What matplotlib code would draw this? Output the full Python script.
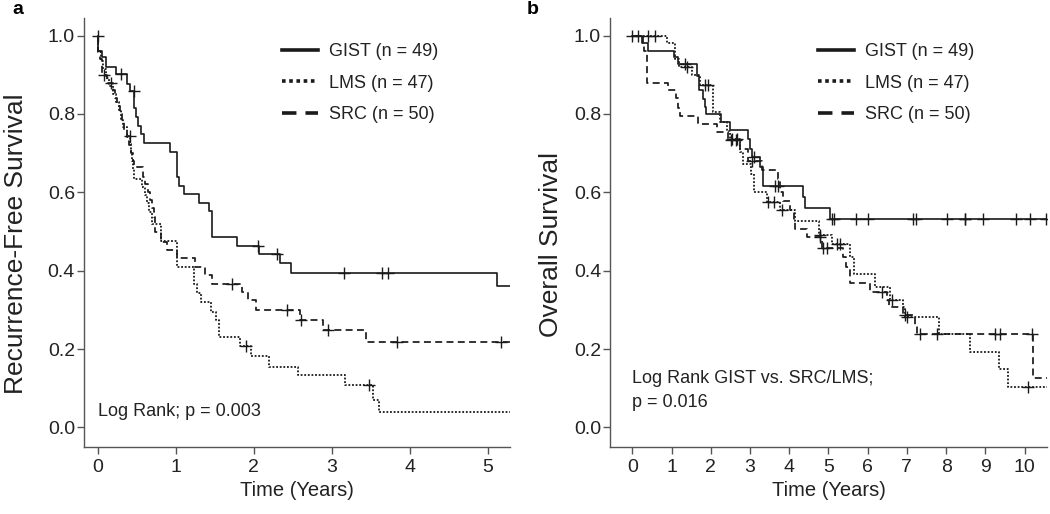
import numpy as np
import matplotlib
matplotlib.use("Agg")
import matplotlib.pyplot as plt
from matplotlib.lines import Line2D

plt.rcParams['font.family'] = ['Liberation Sans', 'DejaVu Sans']

# ---- Panel a: recurrence-free survival (event times, survival after event, censor times)
rfs_gist_t = [0.01, 0.06, 0.11, 0.23, 0.37, 0.42, 0.47, 0.49, 0.52, 0.56, 0.59, 0.93,
              1.01, 1.02, 1.04, 1.10, 1.30, 1.42, 1.46, 1.79, 2.06, 2.33, 2.47, 5.12]
rfs_gist_s = [0.962, 0.945, 0.921, 0.902, 0.877, 0.858, 0.814, 0.792, 0.770, 0.749, 0.725, 0.702,
              0.681, 0.639, 0.615, 0.596, 0.573, 0.552, 0.485, 0.462, 0.443, 0.419, 0.394, 0.362]
rfs_gist_c = [0.0, 0.30, 0.46, 2.05, 2.30, 3.15, 3.64, 3.72]

rfs_lms_t = [0.01, 0.04, 0.07, 0.11, 0.15, 0.19, 0.23, 0.27, 0.30, 0.33, 0.37, 0.42,
             0.43, 0.44, 0.45, 0.46, 0.57, 0.60, 0.63, 0.66, 0.69, 0.81, 1.02, 1.23,
             1.27, 1.32, 1.45, 1.52, 1.55, 1.82, 1.96, 2.20, 2.56, 3.17, 3.52, 3.60]
rfs_lms_s = [0.957, 0.936, 0.915, 0.893, 0.872, 0.851, 0.830, 0.808, 0.787, 0.766, 0.744, 0.723,
             0.702, 0.680, 0.659, 0.635, 0.614, 0.593, 0.572, 0.550, 0.520, 0.475, 0.409, 0.367,
             0.342, 0.320, 0.294, 0.273, 0.230, 0.207, 0.181, 0.154, 0.133, 0.107, 0.071, 0.039]
rfs_lms_c = [0.41, 1.90, 3.47]

rfs_src_t = [0.01, 0.03, 0.06, 0.12, 0.19, 0.22, 0.25, 0.28, 0.31, 0.34, 0.37, 0.40,
             0.43, 0.45, 0.47, 0.58, 0.61, 0.64, 0.67, 0.69, 0.72, 0.74, 0.81, 0.89,
             1.02, 1.25, 1.38, 1.47, 1.85, 1.93, 2.03, 2.59, 2.88, 3.43]
rfs_src_s = [0.96, 0.94, 0.90, 0.88, 0.86, 0.84, 0.82, 0.80, 0.78, 0.76, 0.74, 0.72,
             0.70, 0.68, 0.665, 0.64, 0.62, 0.60, 0.58, 0.56, 0.536, 0.498, 0.473, 0.453,
             0.433, 0.409, 0.388, 0.367, 0.345, 0.324, 0.300, 0.275, 0.249, 0.218]
rfs_src_c = [0.08, 0.17, 1.72, 2.42, 2.61, 2.95, 3.83, 5.16]

# ---- Panel b: overall survival
os_gist_t = [0.25, 0.41, 1.05, 1.17, 1.66, 1.70, 1.80, 1.85, 1.88, 2.26, 2.49, 2.96,
             3.00, 3.06, 3.26, 3.33, 4.35, 4.41, 5.04]
os_gist_s = [0.98, 0.96, 0.946, 0.928, 0.898, 0.860, 0.839, 0.817, 0.800, 0.780, 0.758, 0.735,
             0.711, 0.690, 0.664, 0.617, 0.588, 0.561, 0.532]
os_gist_c = [0.0, 1.35, 3.10, 3.63, 3.72, 5.10, 5.14, 5.70, 6.00, 7.15, 7.24, 8.02,
             8.47, 8.49, 8.93, 9.79, 10.15, 10.55]

os_lms_t = [0.87, 1.08, 1.20, 1.51, 1.72, 2.06, 2.23, 2.40, 2.50, 2.75, 2.83, 3.02,
            3.09, 3.43, 3.77, 4.15, 4.77, 5.09, 5.55, 5.64, 6.19, 6.56, 6.90, 6.96,
            7.83, 8.60, 9.34, 9.59]
os_lms_s = [0.98, 0.94, 0.92, 0.899, 0.873, 0.805, 0.78, 0.757, 0.736, 0.702, 0.673, 0.647,
            0.601, 0.575, 0.554, 0.528, 0.49, 0.467, 0.434, 0.392, 0.358, 0.326, 0.307, 0.283,
            0.239, 0.192, 0.150, 0.103]
os_lms_c = [0.40, 0.57, 1.38, 1.85, 1.93, 2.54, 2.66, 3.47, 3.60, 3.81, 4.79, 5.21, 5.30,
            6.62, 7.00, 10.10]

os_src_t = [0.27, 0.30, 0.36, 0.91, 1.12, 1.17, 1.21, 1.68, 2.15, 2.44, 2.75, 2.95,
            3.30, 3.72, 3.76, 3.85, 4.02, 4.11, 4.15, 4.45, 4.83, 5.38, 5.45, 5.55,
            6.06, 6.49, 6.55, 6.91, 7.21, 7.26, 10.21]
os_src_s = [0.98, 0.96, 0.88, 0.86, 0.84, 0.815, 0.794, 0.774, 0.755, 0.733, 0.71, 0.68,
            0.657, 0.635, 0.601, 0.579, 0.554, 0.528, 0.507, 0.485, 0.458, 0.434, 0.409, 0.368,
            0.345, 0.324, 0.307, 0.286, 0.260, 0.239, 0.127]
os_src_c = [0.15, 2.52, 2.65, 3.05, 4.79, 4.87, 4.97, 6.36, 6.95, 7.34, 7.77, 9.25, 9.38, 10.19]

group_labels = ["GIST (n = 49)", "LMS (n = 47)", "SRC (n = 50)"]

INK = "#1a1a1a"
TXT = "#222222"
styles = [dict(ls="-", lw=1.2), dict(ls=(0, (1, 1)), lw=1.3), dict(ls=(0, (4, 2.5)), lw=1.25)]


def km_curve(ax, t, s, cens, t_end, style):
    tt = np.concatenate([[0.0], t, [t_end]])
    ss = np.concatenate([[1.0], s, [s[-1]]])
    ax.step(tt, ss, where="post", color=INK, **style)
    # censor marks sit on the curve
    idx = np.searchsorted(tt, cens, side="right") - 1
    ax.plot(cens, ss[idx], ls="none", marker="+", ms=8.5, mew=1.0, color=INK)


def style_axes(ax, xticks, ylabel, label_x):
    ax.set_ylim(-0.05, 1.045)
    ax.set_yticks([0, 0.2, 0.4, 0.6, 0.8, 1.0])
    ax.set_yticklabels(["0.0", "0.2", "0.4", "0.6", "0.8", "1.0"])
    ax.set_xticks(xticks)
    for side in ["top", "right"]:
        ax.spines[side].set_visible(False)
    for side in ["left", "bottom"]:
        ax.spines[side].set_color("#555555")
        ax.spines[side].set_linewidth(1.0)
    ax.tick_params(direction="out", length=5, width=1.0, color="#555555",
                   labelsize=14, labelcolor=TXT)
    ax.tick_params(axis="y", pad=1.5)
    ax.tick_params(axis="x", pad=4)
    ax.set_xlabel("Time (Years)", fontsize=14.5, color=TXT, labelpad=3)
    ax.set_ylabel(ylabel, fontsize=19, color=TXT)
    ax.yaxis.set_label_coords(label_x, 0.473)
    handles = [Line2D([0], [0], color=INK, ls=st["ls"], lw=2.6) for st in styles]
    ax.legend(handles, group_labels, loc="upper right", bbox_to_anchor=(0.87, 0.98),
              frameon=False, fontsize=13, handlelength=2.0, handletextpad=0.6,
              labelspacing=0.82, labelcolor=TXT)


fig = plt.figure(figsize=(10.5, 5.14), dpi=100)
ax_a = fig.add_axes([0.08, 0.1304, 0.4057, 0.8346])
ax_b = fig.add_axes([0.581, 0.1304, 0.416, 0.8346])

for t, s, c, st in zip([rfs_gist_t, rfs_lms_t, rfs_src_t],
                       [rfs_gist_s, rfs_lms_s, rfs_src_s],
                       [rfs_gist_c, rfs_lms_c, rfs_src_c], styles):
    km_curve(ax_a, t, s, c, 5.28, st)
ax_a.set_xlim(-0.175, 5.28)
style_axes(ax_a, range(0, 6), "Recurrence-Free Survival", -0.132)
ax_a.text(0.0, 0.04, "Log Rank; p = 0.003", fontsize=13, color=TXT, va="center")

for t, s, c, st in zip([os_gist_t, os_lms_t, os_src_t],
                       [os_gist_s, os_lms_s, os_src_s],
                       [os_gist_c, os_lms_c, os_src_c], styles):
    km_curve(ax_b, t, s, c, 10.57, st)
ax_b.set_xlim(-0.57, 10.57)
style_axes(ax_b, range(0, 11), "Overall Survival", -0.108)
ax_b.text(0.0, 0.125, "Log Rank GIST vs. SRC/LMS;", fontsize=13, color=TXT, va="center")
ax_b.text(0.0, 0.063, "p = 0.016", fontsize=13, color=TXT, va="center")

fig.text(12 / 1050, 1 - 10 / 514, "a", fontsize=14, fontweight="bold", va="center", ha="left")
fig.text(527 / 1050, 1 - 10 / 514, "b", fontsize=14, fontweight="bold", va="center", ha="left")

fig.savefig("out.png", dpi=100)
